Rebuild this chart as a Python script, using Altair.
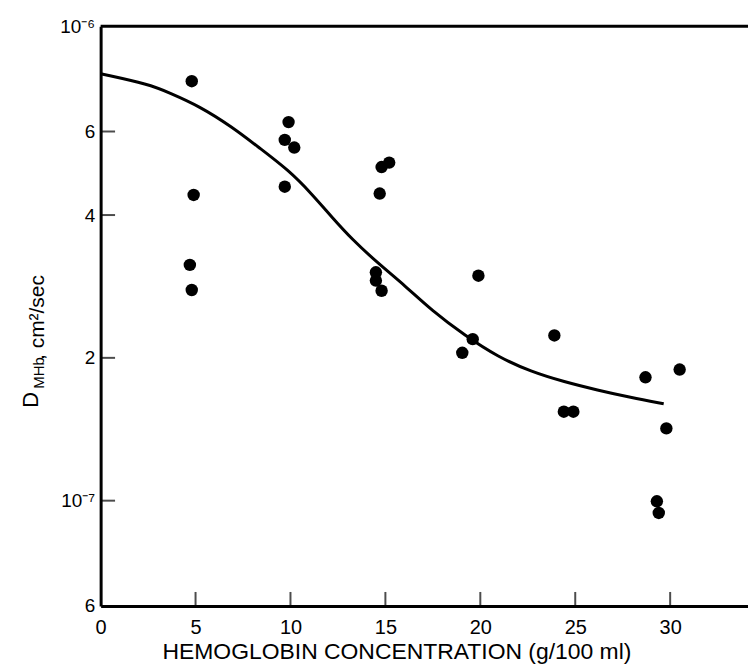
import altair as alt
import pandas as pd

# ---- data ----
HB = [4.8, 4.9, 4.7, 4.8, 9.9, 9.7, 10.2, 9.7, 14.8, 15.2, 14.7, 14.5, 14.5, 14.8,
      19.9, 19.6, 19.05, 23.9, 24.4, 24.9, 28.7, 30.5, 29.8, 29.3, 29.4]
DMHB = [7.66e-7, 4.41e-7, 3.14e-7, 2.78e-7, 6.28e-7, 5.76e-7, 5.55e-7, 4.59e-7,
        5.05e-7, 5.16e-7, 4.44e-7, 3.03e-7, 2.91e-7, 2.77e-7, 2.98e-7, 2.19e-7,
        2.05e-7, 2.23e-7, 1.54e-7, 1.54e-7, 1.82e-7, 1.89e-7, 1.42e-7, 9.97e-8, 9.42e-8]

CURVE_X = [0, 2.57, 3.62, 5.19, 6.94, 8.34, 9.91, 11.13, 12.18, 13.23, 14.63, 16.03,
           17.43, 19.18, 20.92, 22.67, 24.42, 26.17, 27.91, 29.66]
CURVE_Y = [7.94e-7, 7.54e-7, 7.24e-7, 6.79e-7, 6.13e-7, 5.55e-7, 4.97e-7, 4.43e-7,
           3.96e-7, 3.56e-7, 3.16e-7, 2.84e-7, 2.52e-7, 2.23e-7, 2.01e-7, 1.87e-7,
           1.78e-7, 1.71e-7, 1.65e-7, 1.60e-7]

X_TICKS = [0, 5, 10, 15, 20, 25, 30]
X_INNER_TICKS = [5, 10, 15, 20, 25, 30]
Y_TICKS = [1e-6, 6e-7, 4e-7, 2e-7, 1e-7, 6e-8]
Y_TICK_LABELS = ["10⁻⁶", "6", "4", "2", "10⁻⁷", "6"]
Y_INNER_TICKS = [6e-7, 4e-7, 2e-7, 1e-7]

X_MIN, X_MAX = 0, 34.1
Y_MIN, Y_MAX = 6e-8, 1e-6

X_TITLE = "HEMOGLOBIN CONCENTRATION (g/100 ml)"

FONT = "Liberation Sans"
W, H = 650, 582

pts = pd.DataFrame({"hb": HB, "d": DMHB})
curve = pd.DataFrame({"hb": CURVE_X, "d": CURVE_Y})
xt = pd.DataFrame({"hb": X_INNER_TICKS})
yt = pd.DataFrame({"d": Y_INNER_TICKS})
frame = pd.DataFrame({"x": [X_MIN], "x2": [X_MAX], "y": [Y_MAX]})

label_expr = ""
for v, lab in zip(Y_TICKS, Y_TICK_LABELS):
    label_expr += f"abs(datum.value - {v}) < {v * 0.01} ? '{lab}' : "
label_expr += "''"

xscale = alt.Scale(domain=[X_MIN, X_MAX], nice=False, zero=False)
yscale = alt.Scale(type="log", domain=[Y_MIN, Y_MAX], nice=False)

xaxis = alt.Axis(values=X_TICKS, ticks=False, grid=False, labelFlush=False,
                 labelFontSize=20, labelPadding=12, labelFont=FONT,
                 title=X_TITLE, titleFont=FONT, titleFontSize=23, titleFontWeight="normal",
                 titleX=297, titleY=53, titleBaseline="alphabetic", titleAlign="center",
                 domainWidth=3, domainColor="black", labelColor="black", titleColor="black")
yaxis = alt.Axis(values=Y_TICKS, ticks=False, grid=False, labelExpr=label_expr,
                 labelOverlap=False, labelFontSize=19, labelPadding=6, labelFont=FONT,
                 labelFlush=False, title=None,
                 domainWidth=3, domainColor="black", labelColor="black")

points = alt.Chart(pts).mark_circle(size=155, color="black", opacity=1).encode(
    x=alt.X("hb:Q", scale=xscale, axis=xaxis),
    y=alt.Y("d:Q", scale=yscale, axis=yaxis),
)

line = alt.Chart(curve).mark_line(color="black", strokeWidth=3, interpolate="basis").encode(
    x=alt.X("hb:Q", scale=xscale),
    y=alt.Y("d:Q", scale=yscale),
)

xticks = alt.Chart(xt).mark_tick(orient="vertical", color="black", thickness=2, size=14).encode(
    x=alt.X("hb:Q", scale=xscale),
    y=alt.value(H - 7),
)
yticks = alt.Chart(yt).mark_tick(orient="horizontal", color="black", thickness=2, size=15).encode(
    y=alt.Y("d:Q", scale=yscale),
    x=alt.value(7),
)

top = alt.Chart(frame).mark_rule(color="black", strokeWidth=3).encode(
    x=alt.X("x:Q", scale=xscale), x2="x2:Q", y=alt.Y("y:Q", scale=yscale)
)

one = pd.DataFrame({"a": [0]})
t_d = alt.Chart(one).mark_text(text="D", angle=270, align="left", baseline="alphabetic",
                               font=FONT, fontSize=22, color="black").encode(
    x=alt.value(-63), y=alt.value(383))
t_sub = alt.Chart(one).mark_text(text="MHb", angle=270, align="left", baseline="alphabetic",
                                 font=FONT, fontSize=15, color="black").encode(
    x=alt.value(-57), y=alt.value(364))
t_rest = alt.Chart(one).mark_text(text=", cm²/sec", angle=270, align="left", baseline="alphabetic",
                                  font=FONT, fontSize=21, color="black").encode(
    x=alt.value(-57), y=alt.value(335))

chart = alt.layer(line, points, xticks, yticks, top, t_d, t_sub, t_rest).properties(
    width=W, height=H,
    autosize=alt.AutoSizeParams(type="none"),
    padding={"left": 93, "top": 17, "right": 0, "bottom": 59},
    background="white",
).configure_view(stroke=None)

chart.save("out.html", embed_options={"renderer": "svg", "actions": False})
